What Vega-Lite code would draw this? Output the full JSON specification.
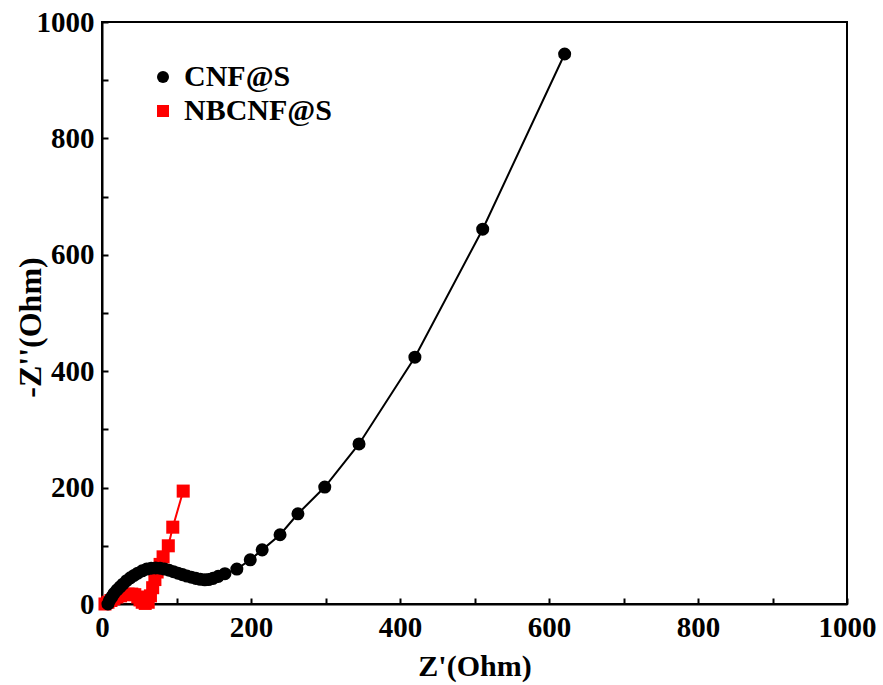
{
  "$schema": "https://vega.github.io/schema/vega-lite/v6.json",
  "width": 745,
  "height": 582,
  "autosize": {"type": "none"},
  "padding": {"left": 102, "top": 22, "right": 36, "bottom": 81},
  "background": "white",
  "config": {
    "view": {"stroke": "black", "strokeWidth": 2},
    "font": "Liberation Serif",
    "axis": {
      "grid": false,
      "domainColor": "black",
      "domainWidth": 2,
      "tickColor": "black",
      "tickWidth": 2,
      "tickSize": -6,
      "labelFont": "Liberation Serif",
      "labelFontWeight": "bold",
      "labelFontSize": 29,
      "labelColor": "black",
      "titleFont": "Liberation Serif",
      "titleFontWeight": "bold",
      "titleFontSize": 30,
      "titleColor": "black"
    }
  },
  "data": {
    "values": [
      {"s": "NBCNF@S", "zr": 4, "zi": 0},
      {"s": "NBCNF@S", "zr": 8, "zi": 3},
      {"s": "NBCNF@S", "zr": 12, "zi": 6},
      {"s": "NBCNF@S", "zr": 16, "zi": 9},
      {"s": "NBCNF@S", "zr": 20, "zi": 12},
      {"s": "NBCNF@S", "zr": 25, "zi": 14},
      {"s": "NBCNF@S", "zr": 30, "zi": 16},
      {"s": "NBCNF@S", "zr": 35, "zi": 17},
      {"s": "NBCNF@S", "zr": 40, "zi": 17},
      {"s": "NBCNF@S", "zr": 44, "zi": 16},
      {"s": "NBCNF@S", "zr": 48, "zi": 12},
      {"s": "NBCNF@S", "zr": 51, "zi": 7},
      {"s": "NBCNF@S", "zr": 54, "zi": 3},
      {"s": "NBCNF@S", "zr": 58, "zi": 1},
      {"s": "NBCNF@S", "zr": 62, "zi": 3},
      {"s": "NBCNF@S", "zr": 65, "zi": 14},
      {"s": "NBCNF@S", "zr": 68, "zi": 28},
      {"s": "NBCNF@S", "zr": 71, "zi": 42},
      {"s": "NBCNF@S", "zr": 74, "zi": 55},
      {"s": "NBCNF@S", "zr": 78, "zi": 68},
      {"s": "NBCNF@S", "zr": 82, "zi": 81},
      {"s": "NBCNF@S", "zr": 89, "zi": 100},
      {"s": "NBCNF@S", "zr": 95, "zi": 132},
      {"s": "NBCNF@S", "zr": 109, "zi": 194},
      {"s": "CNF@S", "zr": 8, "zi": 0},
      {"s": "CNF@S", "zr": 10, "zi": 6},
      {"s": "CNF@S", "zr": 13, "zi": 12},
      {"s": "CNF@S", "zr": 16, "zi": 18},
      {"s": "CNF@S", "zr": 20, "zi": 24},
      {"s": "CNF@S", "zr": 24, "zi": 29},
      {"s": "CNF@S", "zr": 28, "zi": 34},
      {"s": "CNF@S", "zr": 33, "zi": 40},
      {"s": "CNF@S", "zr": 38, "zi": 45},
      {"s": "CNF@S", "zr": 43, "zi": 49},
      {"s": "CNF@S", "zr": 48, "zi": 53},
      {"s": "CNF@S", "zr": 54, "zi": 57},
      {"s": "CNF@S", "zr": 60, "zi": 60},
      {"s": "CNF@S", "zr": 66, "zi": 61.5},
      {"s": "CNF@S", "zr": 72, "zi": 62},
      {"s": "CNF@S", "zr": 78, "zi": 61.5},
      {"s": "CNF@S", "zr": 84, "zi": 60},
      {"s": "CNF@S", "zr": 90, "zi": 58},
      {"s": "CNF@S", "zr": 96, "zi": 55.5},
      {"s": "CNF@S", "zr": 102, "zi": 53},
      {"s": "CNF@S", "zr": 108, "zi": 50.5},
      {"s": "CNF@S", "zr": 114, "zi": 48},
      {"s": "CNF@S", "zr": 120, "zi": 46},
      {"s": "CNF@S", "zr": 126, "zi": 44},
      {"s": "CNF@S", "zr": 132, "zi": 42.5},
      {"s": "CNF@S", "zr": 138, "zi": 41.5},
      {"s": "CNF@S", "zr": 143, "zi": 42},
      {"s": "CNF@S", "zr": 149, "zi": 44},
      {"s": "CNF@S", "zr": 156, "zi": 47.5},
      {"s": "CNF@S", "zr": 165, "zi": 52},
      {"s": "CNF@S", "zr": 181, "zi": 60},
      {"s": "CNF@S", "zr": 199, "zi": 76},
      {"s": "CNF@S", "zr": 215, "zi": 93},
      {"s": "CNF@S", "zr": 239, "zi": 119},
      {"s": "CNF@S", "zr": 263, "zi": 155},
      {"s": "CNF@S", "zr": 299, "zi": 201},
      {"s": "CNF@S", "zr": 345, "zi": 275},
      {"s": "CNF@S", "zr": 420, "zi": 424},
      {"s": "CNF@S", "zr": 511, "zi": 644},
      {"s": "CNF@S", "zr": 621, "zi": 945}
    ]
  },
  "encoding": {
    "x": {
      "field": "zr",
      "type": "quantitative",
      "scale": {"domain": [0, 1000], "nice": false},
      "axis": {
        "title": "Z'(Ohm)",
        "values": [0, 100, 200, 300, 400, 500, 600, 700, 800, 900, 1000],
        "labelExpr": "datum.value % 200 === 0 ? datum.label : ''",
        "format": "d",
        "labelPadding": 15,
        "labelFlush": false,
        "titleY": 47,
        "titleBaseline": "top"
      }
    },
    "y": {
      "field": "zi",
      "type": "quantitative",
      "scale": {"domain": [0, 1000], "nice": false},
      "axis": {
        "title": "-Z''(Ohm)",
        "values": [0, 100, 200, 300, 400, 500, 600, 700, 800, 900, 1000],
        "labelExpr": "datum.value % 200 === 0 ? datum.label : ''",
        "format": "d",
        "labelPadding": 14,
        "labelFlush": false,
        "titleFontSize": 32,
        "titleX": -72,
        "titleY": 305,
        "titleAngle": -90,
        "titleAlign": "center",
        "titleBaseline": "middle"
      }
    },
    "color": {
      "field": "s",
      "type": "nominal",
      "scale": {"domain": ["CNF@S", "NBCNF@S"], "range": ["black", "#ff0000"]},
      "legend": {
        "title": null,
        "orient": "none",
        "legendX": 46,
        "legendY": 40,
        "padding": 0,
        "labelFont": "Liberation Serif",
        "labelFontWeight": "bold",
        "labelFontSize": 30,
        "labelColor": "black",
        "labelOffset": 6,
        "symbolSize": 144,
        "symbolStrokeWidth": 0,
        "rowPadding": 4
      }
    },
    "shape": {
      "field": "s",
      "type": "nominal",
      "scale": {"domain": ["CNF@S", "NBCNF@S"], "range": ["circle", "square"]},
      "legend": null
    }
  },
  "layer": [
    {"mark": {"type": "line", "strokeWidth": 2}, "encoding": {"shape": null}},
    {"mark": {"type": "point", "filled": true, "size": 170, "opacity": 1, "strokeWidth": 0}}
  ]
}
